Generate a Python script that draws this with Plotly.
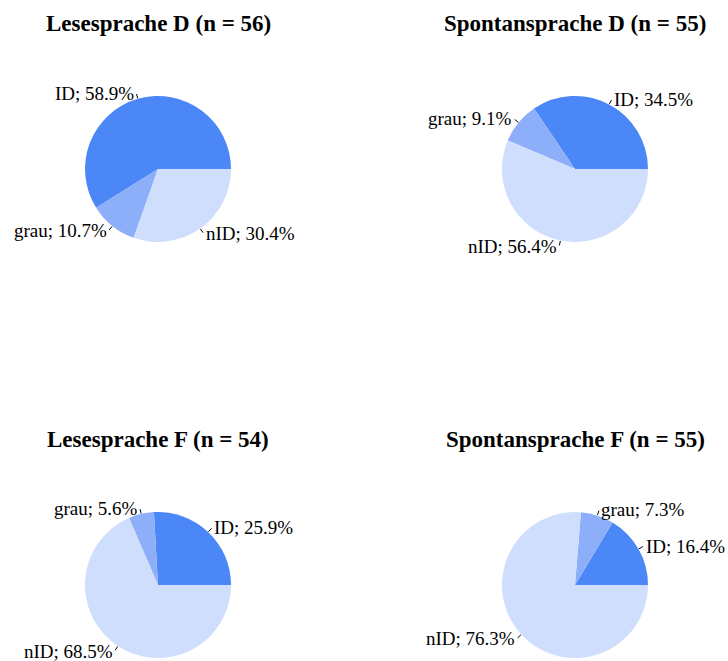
import math
import plotly.graph_objects as go

# Category order and per-panel percentages (ID / grau / nID)
categories = ["ID", "grau", "nID"]
panel_titles = ["Lesesprache D", "Spontansprache D", "Lesesprache F", "Spontansprache F"]
sample_sizes = [56, 55, 54, 55]
pct_lese_d = [58.9, 10.7, 30.4]
pct_spont_d = [34.5, 9.1, 56.4]
pct_lese_f = [25.9, 5.6, 68.5]
pct_spont_f = [16.4, 7.3, 76.3]
panel_values = [pct_lese_d, pct_spont_d, pct_lese_f, pct_spont_f]

colors = ["#4C87F8", "#8DAFF9", "#CFDEFD"]

# Page geometry (pixels)
W, H = 728, 661
centers = [(158, 169), (575, 169), (158, 585), (575, 585)]
R = 73
title_offset = 146  # title sits this far above the pie centre
FONT = "Liberation Serif, Times New Roman, Times, serif"


def px_to_paper(x, y):
    return x / W, 1 - y / H


fig = go.Figure()
annotations = []
shapes = []

for title, n, vals, (cx, cy) in zip(panel_titles, sample_sizes, panel_values, centers):
    x0, y1 = px_to_paper(cx - R, cy - R)
    x1, y0 = px_to_paper(cx + R, cy + R)
    total = sum(vals)
    # counterclockwise pies in plotly place the first slice clockwise of
    # `rotation`; shift so the first slice begins at 3 o'clock instead
    first_deg = vals[0] / total * 360
    fig.add_trace(go.Pie(
        labels=categories,
        values=vals,
        sort=False,
        direction="counterclockwise",
        rotation=90 - first_deg,
        marker=dict(colors=colors, line=dict(width=0)),
        textinfo="none",
        hoverinfo="label+percent",
        domain=dict(x=[x0, x1], y=[y0, y1]),
        showlegend=False,
    ))

    tx, ty = px_to_paper(cx, cy - title_offset)
    annotations.append(dict(
        x=tx, y=ty, xref="paper", yref="paper",
        text=f"<b>{title} (n = {n})</b>", showarrow=False,
        xanchor="center", yanchor="middle",
        font=dict(family=FONT, size=23, color="black"),
    ))

    cum = 0.0
    for cat, v in zip(categories, vals):
        mid = math.radians((cum + v / 2) / total * 360)
        cum += v
        c, s = math.cos(mid), math.sin(mid)
        # short leader tick just outside the rim
        ax0, ay0 = px_to_paper(cx + (R + 0.5) * c, cy - (R + 0.5) * s)
        ax1, ay1 = px_to_paper(cx + (R + 5) * c, cy - (R + 5) * s)
        shapes.append(dict(type="line", xref="paper", yref="paper",
                           x0=ax0, y0=ay0, x1=ax1, y1=ay1,
                           line=dict(color="black", width=1)))
        lx, ly = px_to_paper(cx + (R + 6) * c, cy - (R + 6) * s)
        annotations.append(dict(
            x=lx, y=ly, xref="paper", yref="paper",
            text=f"{cat}; {v:.1f}%", showarrow=False,
            xanchor="left" if c >= 0 else "right", yanchor="middle",
            font=dict(family=FONT, size=19, color="black"),
        ))

fig.update_layout(
    width=W, height=H,
    margin=dict(l=0, r=0, t=0, b=0),
    paper_bgcolor="white",
    plot_bgcolor="white",
    annotations=annotations,
    shapes=shapes,
)

fig.write_html("out.html")
